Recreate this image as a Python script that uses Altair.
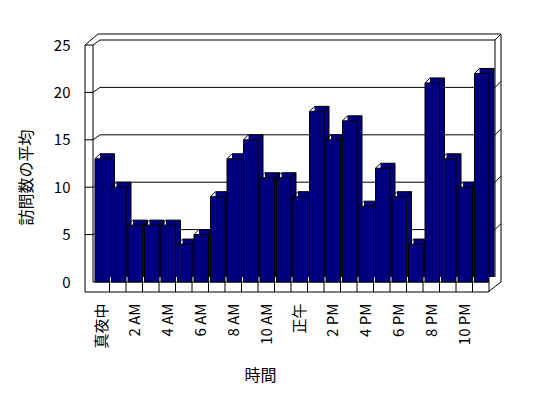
import json
import altair as alt
import pandas as pd

# ---- data ----
hours = ["真夜中", "1 AM", "2 AM", "3 AM", "4 AM", "5 AM", "6 AM", "7 AM",
         "8 AM", "9 AM", "10 AM", "11 AM", "正午", "1 PM", "2 PM", "3 PM",
         "4 PM", "5 PM", "6 PM", "7 PM", "8 PM", "9 PM", "10 PM", "11 PM"]
visits = [13, 10, 6, 6, 6, 4, 5, 9, 13, 15, 11, 11, 9, 18, 15, 17, 8, 12, 9, 4,
          21, 13, 10, 22]
y_ticks = [0, 5, 10, 15, 20, 25]
x_title = "時間"
y_title = "訪問数の平均"

N = len(hours)
YMAX = y_ticks[-1]
NAVY = "#000080"
FONT = "Noto Sans CJK JP"

df = pd.DataFrame({"hour": hours, "visits": visits})
df["idx"] = range(N)
df["idx2"] = df["idx"] + 1

grid_df = pd.DataFrame({"v": y_ticks[1:]})
one = alt.Data(values=[{"k": 0}])

xs = alt.Scale(domain=[0, N], nice=False, zero=False)
ys = alt.Scale(domain=[0, YMAX], nice=False, zero=False)

label_values = [i + 0.5 for i in range(0, N, 2)]
label_expr = json.dumps(hours, ensure_ascii=False) + "[floor(datum.value)]"

x_axis = alt.Axis(
    values=label_values, labelExpr=label_expr, labelAngle=-90,
    labelPadding=21, ticks=False, tickSize=0, domain=False, grid=False,
    labelFlush=False, labelOverlap=False, labelFontSize=15,
    title=x_title, titleX=167, titleY=93, titleAlign="center",
    titleBaseline="middle", titleFontSize=16, titleFontWeight="normal",
)
y_axis = alt.Axis(
    values=y_ticks, ticks=False, tickSize=0, domain=False, grid=False,
    labelPadding=23, labelFontSize=15,
    title=y_title, titleX=-67, titleY=132, titleAlign="center",
    titleBaseline="middle", titleFontSize=16, titleFontWeight="normal",
)


def X(v):
    if isinstance(v, str):
        return alt.X(v, type="quantitative", scale=xs, axis=x_axis)
    return alt.X(datum=v, scale=xs, axis=x_axis)


def X2(v):
    return alt.X2(v) if isinstance(v, str) else alt.X2(datum=v)


def Y(v):
    if isinstance(v, str):
        return alt.Y(v, type="quantitative", scale=ys, axis=y_axis)
    return alt.Y(datum=v, scale=ys, axis=y_axis)


def Y2(v):
    return alt.Y2(v) if isinstance(v, str) else alt.Y2(datum=v)


def seg(data, x1, y1, x2, y2, dx1=0, dy1=0, dx2=0, dy2=0):
    return alt.Chart(data).mark_rule(
        color="black", strokeWidth=1,
        xOffset=dx1, yOffset=dy1, x2Offset=dx2, y2Offset=dy2,
    ).encode(x=X(x1), x2=X2(x2), y=Y(y1), y2=Y2(y2))


# ---- frame (3D box) ----
frame = [
    seg(one, 0, YMAX, 0, 0, dx1=-8, dx2=-8, dy2=10),
    seg(one, 0, YMAX, 0, 0),
    seg(one, 0, YMAX, 0, YMAX, dx1=-8, dx2=5, dy2=-11),
    seg(one, 0, YMAX, N, YMAX, dx1=5, dy1=-11, dx2=12, dy2=-11),
    seg(one, N, YMAX, N, 0, dx1=12, dy1=-11, dx2=12),
    seg(one, N, YMAX, N, 0, dx1=6, dy1=-5, dx2=6, dy2=-5),
    seg(one, N, 0, N, 0, dx1=-1, dy1=10, dx2=12),
    seg(one, 0, 0, N, 0, dx2=-1),
    seg(one, 0, 0, N, 0, dx1=-8, dy1=10, dx2=-1, dy2=10),
]

grid = [
    seg(grid_df, 0, "v", 0, "v", dx1=-8),
    seg(grid_df, 0, "v", 0, "v", dx2=7, dy2=-5),
    seg(grid_df, 0, "v", N, "v", dx1=7, dy1=-5, dx2=6, dy2=-5),
    seg(grid_df, N, "v", N, "v", dx1=6, dy1=-5, dx2=12, dy2=-11),
]

floor_ticks = [seg(df, "idx2", 0, "idx2", 0, dy2=10)]

# ---- bars ----
shadow = alt.Chart(df).mark_rect(
    color=NAVY, xOffset=7, x2Offset=5, yOffset=-5, y2Offset=-5
).encode(x=X("idx"), x2=X2("idx2"), y=Y("visits"), y2=Y2(0))

edges = [
    seg(df, "idx", "visits", "idx2", "visits", dx1=7, dy1=-5, dx2=5, dy2=-5),
    seg(df, "idx2", "visits", "idx2", 0, dx1=5, dy1=-5, dx2=5, dy2=-5),
    seg(df, "idx", "visits", "idx", "visits", dx1=2, dx2=7, dy2=-5),
    seg(df, "idx2", "visits", "idx2", "visits", dx2=5, dy2=-5),
]

front = alt.Chart(df).mark_rect(
    color=NAVY, stroke="black", strokeWidth=1, xOffset=2
).encode(
    x=X("idx"), x2=X2("idx2"), y=Y("visits"), y2=Y2(0),
    tooltip=["hour", "visits"],
)

chart = alt.layer(
    *frame, *grid, *floor_ticks, shadow, *edges, front
).properties(
    width=396, height=237,
    autosize=alt.AutoSizeParams(type="none"),
    padding={"left": 93, "top": 45, "right": 59, "bottom": 116},
    background="white",
).configure(font=FONT).configure_axis(
    labelFont=FONT, titleFont=FONT, labelColor="black", titleColor="black"
).configure_view(strokeWidth=0)

chart.save("out.html", embed_options={"renderer": "svg", "actions": False})
